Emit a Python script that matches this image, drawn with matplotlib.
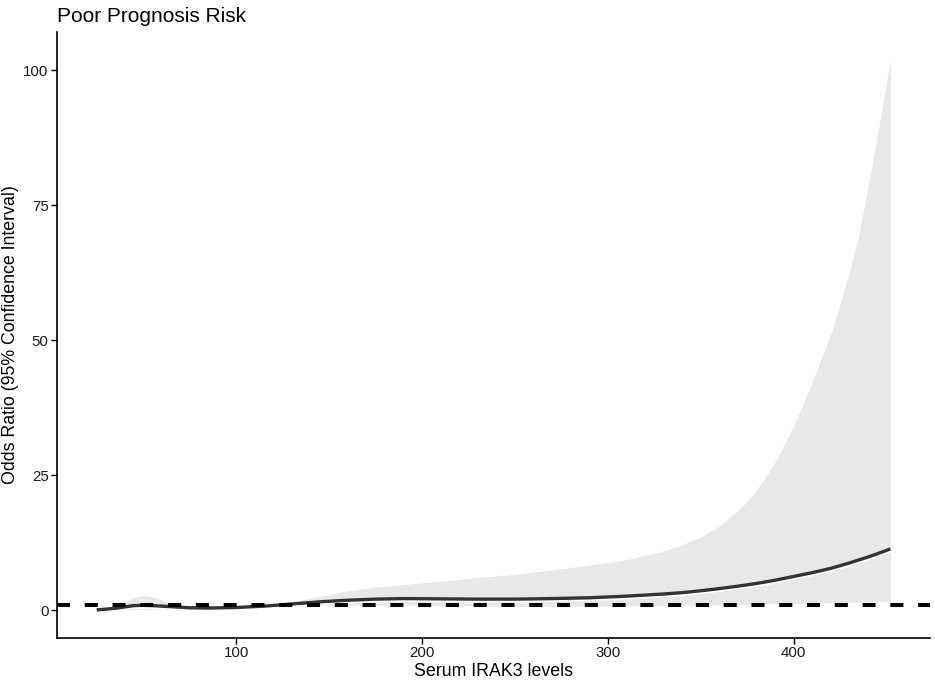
import numpy as np
import matplotlib
matplotlib.use("Agg")
import matplotlib.pyplot as plt
import matplotlib.patheffects as pe

# values (serum IRAK3 vs odds ratio, RCS curve)
irak3 = [25, 35, 45, 50, 55, 65, 75, 85, 100, 115,
         130, 145, 160, 175, 190, 210, 230, 250, 270, 290,
         310, 330, 340, 350, 360, 370, 375, 380, 385, 390,
         395, 400, 405, 410, 415, 420, 425, 430, 435, 440,
         445, 449, 452]
odds_ratio = [0.1, 0.4, 0.9, 0.95, 0.9, 0.7, 0.5, 0.45, 0.55, 0.8,
              1.2, 1.6, 1.9, 2.1, 2.2, 2.15, 2.1, 2.1, 2.2, 2.35,
              2.65, 3.05, 3.3, 3.65, 4.05, 4.5, 4.75, 5.0, 5.3, 5.6,
              5.95, 6.3, 6.65, 7.0, 7.4, 7.8, 8.3, 8.8, 9.35, 9.9,
              10.5, 11.0, 11.4]
ci_upper = [0.2, 0.8, 2.4, 2.75, 2.5, 1.4, 0.8, 0.7, 0.8, 1.1,
            1.6, 2.6, 3.6, 4.3, 4.8, 5.4, 6.1, 6.7, 7.5, 8.4,
            9.4, 11.0, 12.2, 13.6, 15.6, 18.5, 20.2, 22.3, 24.8, 27.5,
            30.7, 34.2, 38.1, 42.4, 46.8, 51.2, 56.8, 62.7, 69.5, 78.5,
            88.0, 95.8, 102.0]
ci_lower = [0.0, 0.1, 0.2, 0.2, 0.25, 0.3, 0.3, 0.3, 0.35, 0.5,
            0.8, 1.0, 1.0, 1.0, 1.0, 0.9, 0.8, 0.75, 0.75, 0.8,
            0.85, 0.9, 0.95, 1.0, 1.05, 1.1, 1.15, 1.2, 1.22, 1.25,
            1.28, 1.3, 1.35, 1.4, 1.43, 1.45, 1.5, 1.53, 1.56, 1.6,
            1.65, 1.68, 1.7]

x_ticks = [100, 200, 300, 400]
y_ticks = [0, 25, 50, 75, 100]

plt.rcParams['font.family'] = ['Liberation Sans', 'DejaVu Sans']
plt.rcParams['lines.scale_dashes'] = False

fig = plt.figure(figsize=(9.35, 6.82), dpi=100)
ax = fig.add_axes([0.061, 0.0645, 0.9337, 0.8885])

# confidence band
ax.fill_between(irak3, ci_lower, ci_upper, color='#e8e8e8', linewidth=0, zorder=1)

# odds ratio curve (thin white edge underneath, as in the original)
ax.plot(irak3, odds_ratio, color='#333333', linewidth=2.4, solid_capstyle='butt',
        zorder=2,
        path_effects=[pe.Stroke(offset=(0, -1.2), linewidth=2.4, foreground='white'),
                      pe.Normal()])

# reference line at OR = 1, drawn on top
ax.axhline(1, color='black', linewidth=2.9, linestyle=(0, (9.4, 10.6)), zorder=3)

# ggplot-style 5% expansion
xr = max(irak3) - min(irak3)
ax.set_xlim(min(irak3) - 0.05 * xr, max(irak3) + 0.05 * xr)
ymin = min(min(ci_lower), min(odds_ratio))
ymax = max(ci_upper)
yr = ymax - ymin
ax.set_ylim(ymin - 0.05 * yr, ymax + 0.05 * yr)

ax.set_xticks(x_ticks)
ax.set_yticks(y_ticks)
ax.tick_params(length=4, width=1.0, colors='black', labelsize=10.8,
               labelcolor='#1a1a1a', pad=2)

for side in ['top', 'right']:
    ax.spines[side].set_visible(False)
for side in ['left', 'bottom']:
    ax.spines[side].set_linewidth(1.2)

ax.set_xlabel('Serum IRAK3 levels', fontsize=12.8, labelpad=2)
ax.set_ylabel('Odds Ratio (95% Confidence Interval)', fontsize=12.8, labelpad=3)
ax.set_title('Poor Prognosis Risk', loc='left', fontsize=15, pad=7)

fig.savefig('out.png', dpi=100)
